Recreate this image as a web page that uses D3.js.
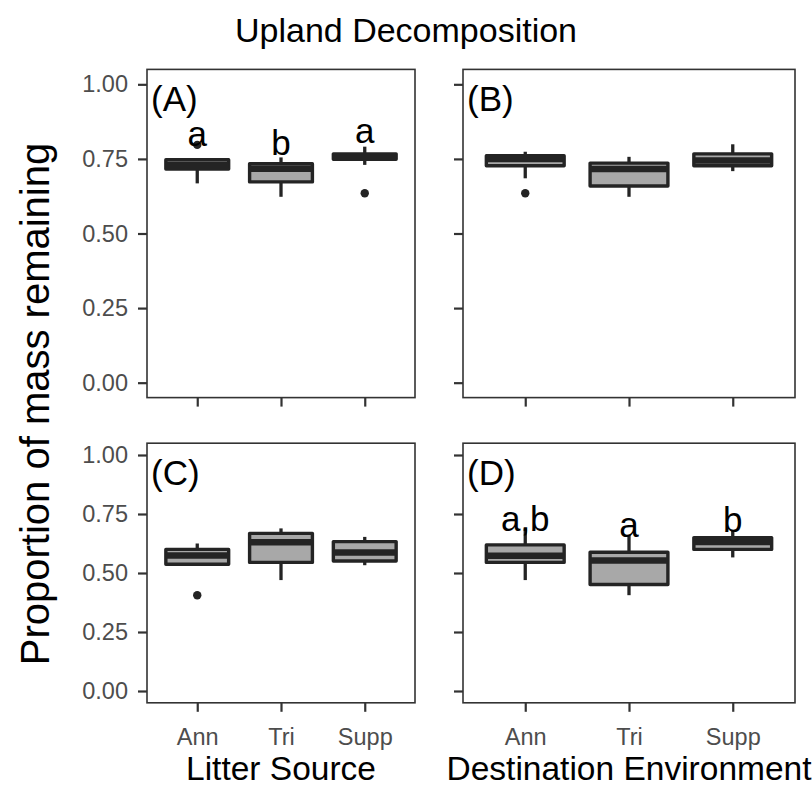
<!DOCTYPE html>
<html>
<head>
<meta charset="utf-8">
<script src="https://cdn.jsdelivr.net/npm/d3@7"></script>
<style>
  body { margin: 0; background: #fff; }
  text { font-family: "Liberation Sans", Arial, sans-serif; }
</style>
</head>
<body>
<svg id="chart" width="812" height="786"></svg>
<script>
// categories
const groups = ['Ann', 'Tri', 'Supp'];
const yTicks = [0, 0.25, 0.5, 0.75, 1];
const panelTags = ['(A)', '(B)', '(C)', '(D)'];
const xTitles = ['Litter Source', 'Destination Environment'];

// box stats per panel, in order Ann, Tri, Supp
const lowA = [0.668, 0.623, 0.730], q1A = [0.716, 0.673, 0.749], medA = [0.730, 0.717, 0.758], q3A = [0.747, 0.734, 0.767], highA = [0.747, 0.755, 0.791];
const lowB = [0.685, 0.623, 0.709], q1B = [0.727, 0.659, 0.727], medB = [0.750, 0.716, 0.745], q3B = [0.761, 0.736, 0.767], highB = [0.774, 0.757, 0.799];
const lowC = [0.537, 0.470, 0.533], q1C = [0.537, 0.545, 0.551], medC = [0.574, 0.630, 0.587], q3C = [0.600, 0.668, 0.633], highC = [0.625, 0.689, 0.653];
const lowD = [0.470, 0.406, 0.566], q1D = [0.545, 0.451, 0.600], medD = [0.573, 0.553, 0.631], q3D = [0.619, 0.588, 0.650], highD = [0.689, 0.661, 0.682];

// outliers: [group, value]
const outA = [['Ann', 0.797], ['Supp', 0.635]];
const outB = [['Ann', 0.635]];
const outC = [['Ann', 0.406]];
const outD = [];

// significance letters: [group, text, y]
const lettersA = [['Ann', 'a', 0.793], ['Tri', 'b', 0.763], ['Supp', 'a', 0.803]];
const lettersD = [['Ann', 'a,b', 0.678], ['Tri', 'a', 0.653], ['Supp', 'b', 0.675]];

const svg = d3.select('#chart');

const boxes = (low, q1, med, q3, high) =>
  groups.map((g, i) => ({ g, low: low[i], q1: q1[i], med: med[i], q3: q3[i], high: high[i] }));

const panels = [
  { tag: panelTags[0], x0: 147, x1: 415, y0: 69.4, y1: 397.6, labels: true, data: boxes(lowA, q1A, medA, q3A, highA), out: outA, letters: lettersA },
  { tag: panelTags[1], x0: 463, x1: 795, y0: 69.4, y1: 397.6, labels: false, data: boxes(lowB, q1B, medB, q3B, highB), out: outB, letters: [] },
  { tag: panelTags[2], x0: 147, x1: 415, y0: 443.2, y1: 702.8, labels: true, data: boxes(lowC, q1C, medC, q3C, highC), out: outC, letters: [], xTitle: xTitles[0] },
  { tag: panelTags[3], x0: 463, x1: 795, y0: 443.2, y1: 702.8, labels: false, data: boxes(lowD, q1D, medD, q3D, highD), out: outD, letters: lettersD, xTitle: xTitles[1] }
];

const dark = '#242424';
const fillGrey = '#a8a8a8';

panels.forEach((p, pi) => {
  const x = d3.scalePoint().domain(groups).range([p.x0, p.x1]).padding(0.6);
  const y = d3.scaleLinear().domain([-0.05, 1.05]).range([p.y1, p.y0]);
  const bw = x.step() * 0.75;
  const g = svg.append('g');

  // y axis
  const yAxis = g.append('g')
    .attr('transform', `translate(${p.x0},0)`)
    .call(d3.axisLeft(y).tickValues(yTicks).tickFormat(d3.format('.2f')).tickSize(9).tickPadding(10));
  yAxis.select('.domain').remove();
  yAxis.selectAll('.tick line').attr('stroke', '#333').attr('stroke-width', 2.2);
  yAxis.selectAll('.tick text')
    .attr('fill', '#4d4d4d')
    .style('font-size', '23.5px')
    .style('font-family', '"Liberation Sans", Arial, sans-serif')
    .text(d => p.labels ? d3.format('.2f')(d) : '');

  // x axis
  const xAxis = g.append('g')
    .attr('transform', `translate(0,${p.y1})`)
    .call(d3.axisBottom(x).tickSize(9).tickPadding(17));
  xAxis.select('.domain').remove();
  xAxis.selectAll('.tick line').attr('stroke', '#333').attr('stroke-width', 2.2);
  xAxis.selectAll('.tick text')
    .attr('fill', '#4d4d4d')
    .style('font-size', '23.5px')
    .style('font-family', '"Liberation Sans", Arial, sans-serif')
    .text(d => p.xTitle ? d : '');

  // whiskers
  g.selectAll('line.whisker')
    .data(p.data)
    .enter()
    .append('line')
    .attr('class', 'whisker')
    .attr('x1', d => x(d.g)).attr('x2', d => x(d.g))
    .attr('y1', d => y(d.low)).attr('y2', d => y(d.high))
    .attr('stroke', dark)
    .attr('stroke-width', 3.3);

  // boxes
  g.selectAll('rect.box')
    .data(p.data)
    .enter()
    .append('rect')
    .attr('class', 'box')
    .attr('x', d => x(d.g) - bw / 2)
    .attr('width', bw)
    .attr('y', d => y(d.q3))
    .attr('height', d => y(d.q1) - y(d.q3))
    .attr('fill', fillGrey)
    .attr('stroke', dark)
    .attr('stroke-width', 3.4)
    .attr('stroke-linejoin', 'round');

  // medians
  g.selectAll('line.median')
    .data(p.data)
    .enter()
    .append('line')
    .attr('class', 'median')
    .attr('x1', d => x(d.g) - bw / 2).attr('x2', d => x(d.g) + bw / 2)
    .attr('y1', d => y(d.med)).attr('y2', d => y(d.med))
    .attr('stroke', dark)
    .attr('stroke-width', 6.5);

  // outliers
  g.selectAll('circle.out')
    .data(p.out)
    .enter()
    .append('circle')
    .attr('cx', d => x(d[0]))
    .attr('cy', d => y(d[1]))
    .attr('r', 4.2)
    .attr('fill', dark);

  // letters
  g.selectAll('text.letter')
    .data(p.letters)
    .enter()
    .append('text')
    .attr('x', d => x(d[0]))
    .attr('y', d => y(d[2]))
    .attr('text-anchor', 'middle')
    .style('font-size', '35px')
    .attr('fill', '#000')
    .text(d => d[1]);

  // panel border
  g.append('rect')
    .attr('x', p.x0).attr('y', p.y0)
    .attr('width', p.x1 - p.x0).attr('height', p.y1 - p.y0)
    .attr('fill', 'none')
    .attr('stroke', '#333')
    .attr('stroke-width', 1.6);

  // panel tag
  g.append('text')
    .attr('x', p.x0 + 4)
    .attr('y', p.y0 + 42)
    .style('font-size', '35px')
    .attr('fill', '#000')
    .text(p.tag);

  if (p.xTitle) {
    g.append('text')
      .attr('x', (p.x0 + p.x1) / 2)
      .attr('y', 780)
      .attr('text-anchor', 'middle')
      .style('font-size', '33.5px')
      .attr('fill', '#000')
      .text(p.xTitle);
  }
});

// title
svg.append('text')
  .attr('x', 406)
  .attr('y', 42)
  .attr('text-anchor', 'middle')
  .style('font-size', '34px')
  .attr('fill', '#000')
  .text('Upland Decomposition');

// y axis title
svg.append('text')
  .attr('transform', 'translate(49,404) rotate(-90)')
  .attr('text-anchor', 'middle')
  .style('font-size', '40px')
  .attr('fill', '#000')
  .text('Proportion of mass remaining');
</script>
</body>
</html>
